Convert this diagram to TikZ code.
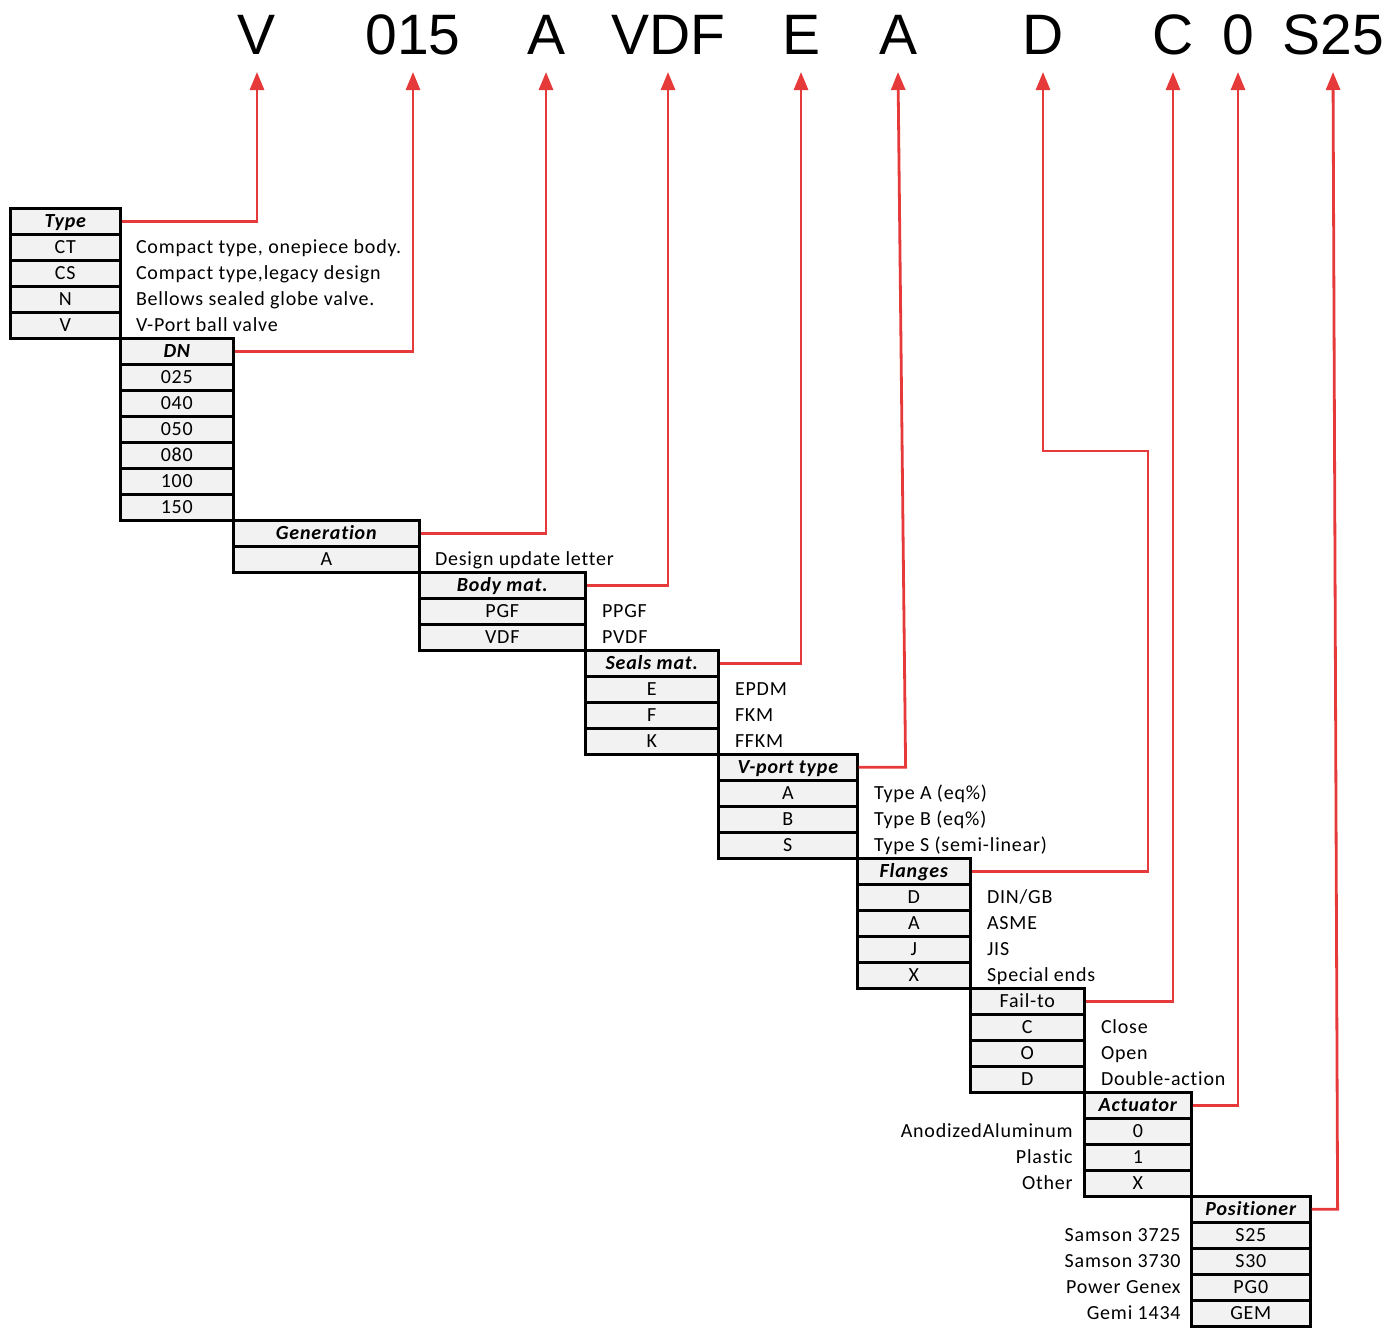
\documentclass[tikz,border=0pt]{standalone}
\usepackage{fontspec}
\setmainfont{Carlito}[LetterSpace=4, Ligatures=NoCommon]
\newfontfamily\codefont{Liberation Sans}
\usetikzlibrary{arrows.meta, positioning}
\definecolor{cellgray}{HTML}{F2F2F2}
\definecolor{linkred}{HTML}{E5393A}

\tikzset{
  cell/.style={draw=black, line width=1.3pt, fill=cellgray, minimum height=13pt,
    inner sep=0pt, text height=8.5pt, text depth=2pt, anchor=north west},
  head/.style={cell, font=\bfseries\itshape},
  desc/.style={inner sep=0pt, text height=8.5pt, text depth=2pt},
  code/.style={font=\codefont\fontsize{28.5}{34}\selectfont, inner sep=0pt,
    inner ysep=8.5pt, text depth=0pt, anchor=south},
  link/.style={draw=linkred, line width=1.4pt, -{Triangle[length=9pt,width=7pt]}},
}

% [header style] name, left x, right x, top y, header, codes
\newcommand{\codetable}[7][head]{%
  \node[#1, minimum width={(#4-#3)*0.5pt}] (#2) at (#3,#5) {#6};
  \foreach \c [count=\i] in {#7}
    \node[cell, minimum width={(#4-#3)*0.5pt}] (#2-\i) at (#3,{#5+\i*26}) {\c};
}

\begin{document}
\begin{tikzpicture}[x=0.5pt, y=-0.5pt, font=\fontsize{10}{12}\selectfont]
  \useasboundingbox (0,0) rectangle (1400,1328);

  % code letters
  \node[code] (cV)   at (257,72)  {V};
  \node[code] (cDN)  at (413,72)  {015};
  \node[code] (cGen) at (546,72)  {A};
  \node[code] (cBod) at (668,72)  {VDF};
  \node[code] (cSea) at (801,72)  {E};
  \node[code] (cVp)  at (898,72)  {A};
  \node[code] (cFl)  at (1043,72) {D};
  \node[code] (cFa)  at (1173,72) {C};
  \node[code] (cAc)  at (1238,72) {0};
  \node[code] (cPo)  at (1333,72) {S25};

  % tables
  \codetable{type}{9}{119}{207}{Type}{CT,CS,N,V}
  \codetable{dn}{119}{232}{337}{DN}{025,040,050,080,100,150}
  \codetable{gen}{232}{418}{519}{Generation}{A}
  \codetable{body}{418}{584}{571}{Body mat.}{PGF,VDF}
  \codetable{seals}{584}{717}{649}{Seals mat.}{E,F,K}
  \codetable{vport}{717}{856}{753}{V-port type}{A,B,S}
  \codetable{flange}{856}{969}{857}{Flanges}{D,A,J,X}
  \codetable[cell]{fail}{969}{1083}{987}{Fail-to}{C,O,D}
  \codetable{act}{1083}{1190}{1091}{Actuator}{0,1,X}
  \codetable{pos}{1190}{1309}{1195}{Positioner}{S25,S30,PG0,GEM}

  % descriptions
  \foreach \d [count=\i] in {{Compact type, onepiece body.},{Compact type,legacy design},
      Bellows sealed globe valve.,V-Port ball valve}
    \node[desc, right=7pt of type-\i] (type-d\i) {\d};
  \node[desc, right=7pt of gen-1] (gen-d1) {Design update letter};
  \foreach \d [count=\i] in {PPGF,PVDF}
    \node[desc, right=7.5pt of body-\i] (body-d\i) {\d};
  \foreach \d [count=\i] in {EPDM,FKM,FFKM}
    \node[desc, right=7.5pt of seals-\i] (seals-d\i) {\d};
  \foreach \d [count=\i] in {Type A (eq\%),Type B (eq\%),Type S (semi-linear)}
    \node[desc, right=7.5pt of vport-\i] (vport-d\i) {\d};
  \foreach \d [count=\i] in {DIN/GB,ASME,JIS,Special ends}
    \node[desc, right=7.5pt of flange-\i] (flange-d\i) {\d};
  \foreach \d [count=\i] in {Close,Open,Double-action}
    \node[desc, right=7.5pt of fail-\i] (fail-d\i) {\d};
  \foreach \d [count=\i] in {AnodizedAluminum,Plastic,Other}
    \node[desc, left=5pt of act-\i] (act-d\i) {\d};
  \foreach \d [count=\i] in {Samson 3725,Samson 3730,Power Genex,Gemi 1434}
    \node[desc, left=4.5pt of pos-\i] (pos-d\i) {\d};

  % links to the code
  \coordinate (flange-bend) at (1148,451);
  \draw[link] (type.east) -| (cV.south);
  \draw[link] (dn.east) -| (cDN.south);
  \draw[link] (gen.east) -| (cGen.south);
  \draw[link] (body.east) -| (cBod.south);
  \draw[link] (seals.east) -| (cSea.south);
  \draw[link] (vport.east) -- ++(47,0) -- (cVp.south);
  \draw[link] (flange.east) -| (flange-bend) -| (cFl.south);
  \draw[link] (fail.east) -| (cFa.south);
  \draw[link] (act.east) -| (cAc.south);
  \draw[link] (pos.east) -- ++(26,0) -- (cPo.south);
\end{tikzpicture}
\end{document}
